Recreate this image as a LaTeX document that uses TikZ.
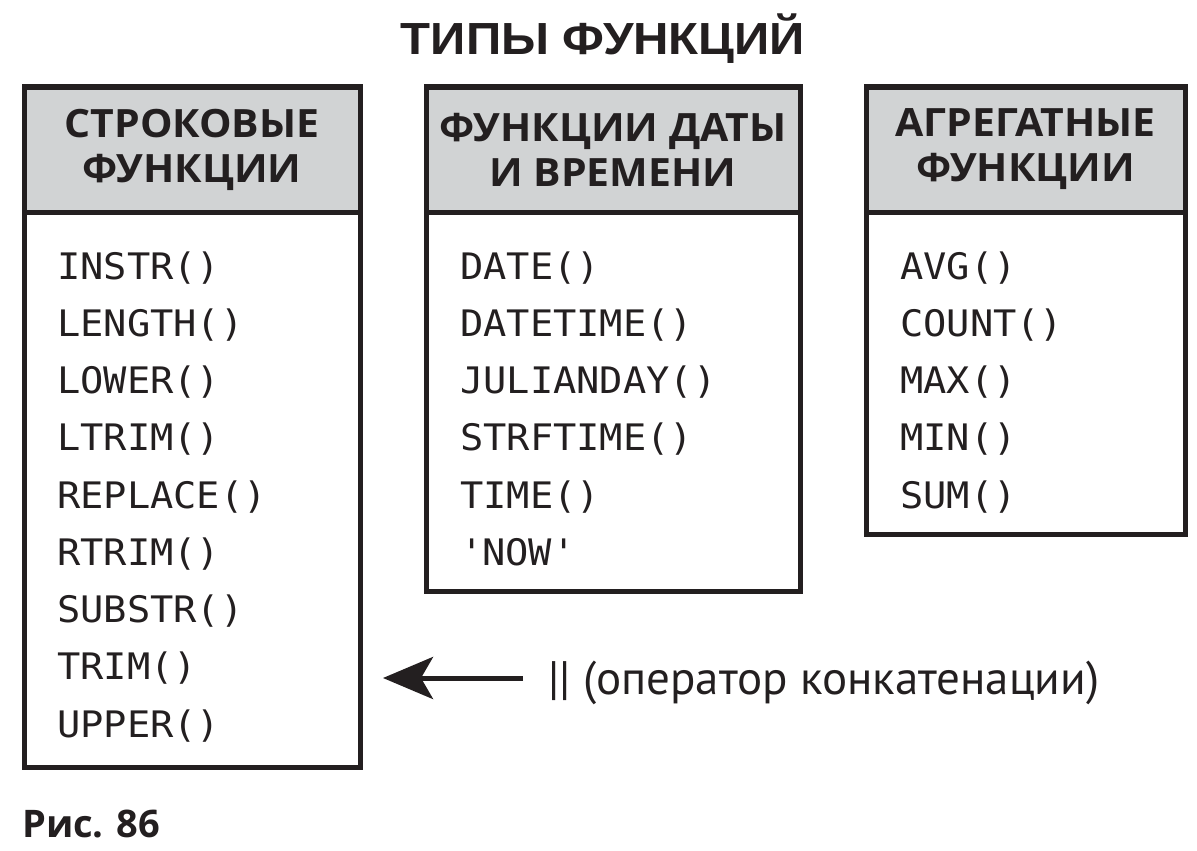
\documentclass[tikz,border=0pt]{standalone}
\usepackage{fontspec}
\setmainfont{Open Sans}
\setmonofont{DejaVu Sans Mono}[FakeStretch=1.06]
\newfontfamily\titlefont{Liberation Sans}[FakeStretch=1.09]
\newfontfamily\hdfont{Open Sans}[FakeStretch=1.05]
\newfontfamily\opfont{PT Sans}
\usetikzlibrary{arrows.meta}
\definecolor{ink}{HTML}{231F20}
\definecolor{hdrgray}{HTML}{D1D3D4}
\begin{document}
\begin{tikzpicture}[x=1pt,y=-1pt,
  frame/.style={draw=ink, line width=5pt, inner sep=0pt, outer sep=0pt, anchor=north west},
  hdr/.style={frame, fill=hdrgray, align=center, text=ink, font=\hdfont\bfseries\fontsize{39}{45}\selectfont},
  item/.style={anchor=base west, inner sep=0pt, text=ink, font=\ttfamily\fontsize{36.5}{40}\selectfont},
  arr/.style={draw=ink, line width=5pt, -{Stealth[length=50pt,width=42pt,inset=12pt]}}
]
\useasboundingbox (0,0) rectangle (1197,851);
\node[anchor=base, inner sep=0pt, text=ink, font=\titlefont\bfseries\fontsize{45}{45}\selectfont] (title) at (603,55) {ТИПЫ ФУНКЦИЙ};
% box 1
\node[frame, minimum width=336pt, minimum height=680pt] (b1) at (24,87) {};
\node[hdr, minimum width=336pt, minimum height=125pt] (h1) at (24,87) {СТРОКОВЫЕ\\ФУНКЦИИ};
\foreach \t [count=\i from 0] in {INSTR(),LENGTH(),LOWER(),LTRIM(),REPLACE(),RTRIM(),SUBSTR(),TRIM(),UPPER()}
  \node[item] (s\i) at ({57},{279+57.25*\i}) {\t};
% box 2
\node[frame, minimum width=374pt, minimum height=504pt] (b2) at (426,87) {};
\node[hdr, minimum width=374pt, minimum height=125pt] (h2) at (426,87) {ФУНКЦИИ ДАТЫ\\И ВРЕМЕНИ};
\foreach \t [count=\i from 0] in {DATE(),DATETIME(),JULIANDAY(),STRFTIME(),TIME(),\textquotesingle NOW\textquotesingle}
  \node[item] (d\i) at ({460},{279+57.25*\i}) {\t};
% box 3
\node[frame, minimum width=319pt, minimum height=447pt] (b3) at (866,87) {};
\node[hdr, minimum width=319pt, minimum height=125pt] (h3) at (866,87) {АГРЕГАТНЫЕ\\ФУНКЦИИ};
\foreach \t [count=\i from 0] in {AVG(),COUNT(),MAX(),MIN(),SUM()}
  \node[item] (a\i) at ({900},{279+57.25*\i}) {\t};
% concatenation operator
\node[anchor=base west, inner sep=0pt, text=ink, font=\opfont\fontsize{47}{47}\selectfont] (op) at (548,694) {|| (оператор конкатенации)};
\coordinate (atail) at (523,678);
\coordinate (atip) at (383,678);
\draw[arr] (atail) -- (atip);
% caption
\node[anchor=base west, inner sep=0pt, text=ink, font=\bfseries\fontsize{38}{38}\selectfont] (fig) at (22,837) {Рис. 86};
\end{tikzpicture}
\end{document}
